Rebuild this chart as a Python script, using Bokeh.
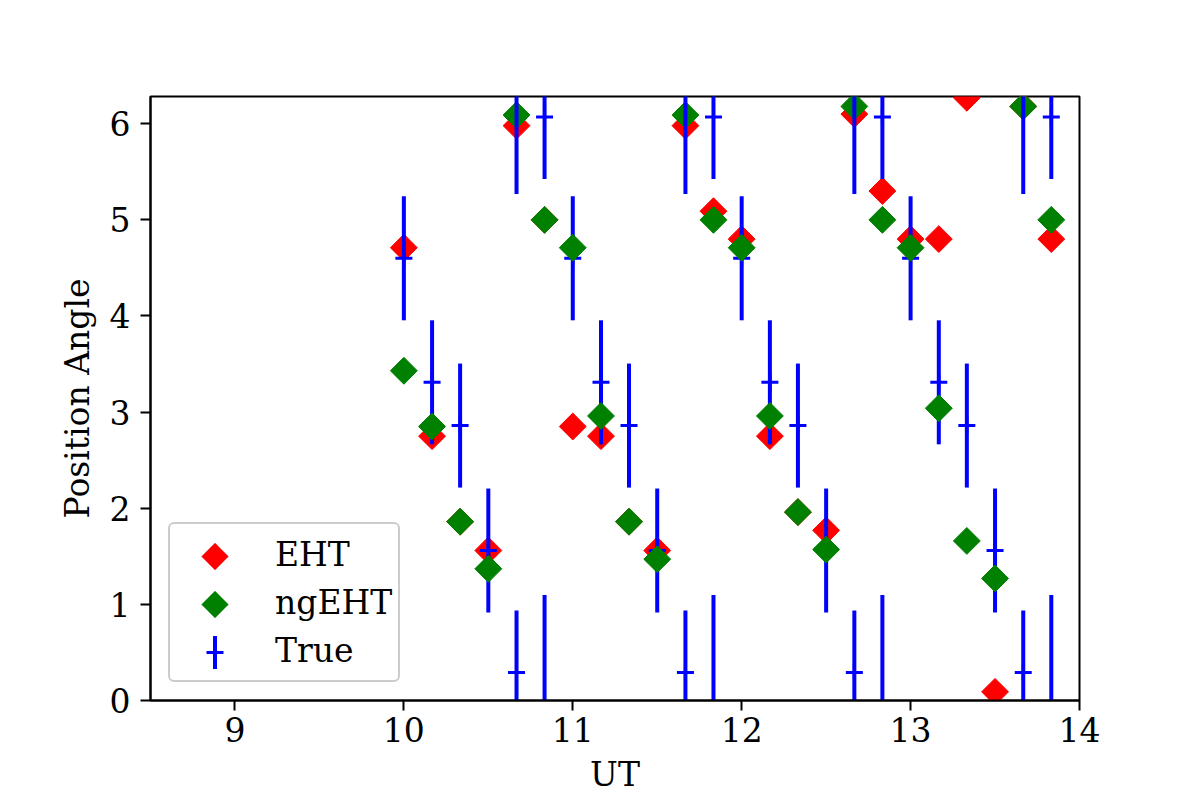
import numpy as np
from bokeh.plotting import figure
from bokeh.models import (Range1d, FixedTicker, Legend, LegendItem, ColumnDataSource,
                          PolyAnnotation)
from bokeh.embed import file_html
from bokeh.resources import INLINE

# ---- data ----
ut = [10.0, 10.167, 10.333, 10.5, 10.667, 10.833,
      11.0, 11.167, 11.333, 11.5, 11.667, 11.833,
      12.0, 12.167, 12.333, 12.5, 12.667, 12.833,
      13.0, 13.167, 13.333, 13.5, 13.667, 13.833]
eht_pa = [4.71, 2.75, 1.86, 1.56, 5.98, 5.00,
          2.85, 2.75, 1.86, 1.56, 5.98, 5.09,
          4.80, 2.75, 1.96, 1.77, 6.10, 5.30,
          4.80, 4.80, 6.27, 0.09, 6.18, 4.80]
ngeht_pa = [3.43, 2.85, 1.86, 1.37, 6.09, 5.00,
            4.71, 2.96, 1.86, 1.47, 6.09, 5.00,
            4.71, 2.96, 1.96, 1.57, 6.18, 5.00,
            4.71, 3.04, 1.66, 1.27, 6.18, 5.00]
true_pa = [4.60, 3.31, 2.86, 1.56, 0.29, 6.07,
           4.60, 3.31, 2.86, 1.56, 0.29, 6.07,
           4.60, 3.31, 2.86, 1.56, 0.29, 6.07,
           4.60, 3.31, 2.86, 1.56, 0.29, 6.07]
true_err_minus = [0.645, 0.645, 0.645, 0.645, 1.305, 0.645] * 4
true_err_plus = [0.645, 0.645, 0.645, 0.645, 0.645, 1.31] * 4
x_ticks = [9, 10, 11, 12, 13, 14]
y_ticks = [0, 1, 2, 3, 4, 5, 6]
labels = ["EHT", "ngEHT", "True"]

FONT = "DejaVu Serif"
FS = "33px"
TWO_PI = 2 * np.pi
RED, GREEN, BLUE = "#ff0000", "#008000", "#0000ff"

t = np.array(true_pa)
lo = t - np.array(true_err_minus)
hi = t + np.array(true_err_plus)

src = ColumnDataSource(dict(ut=ut, eht=eht_pa, ngeht=ngeht_pa, true=true_pa, lo=lo, hi=hi))
# copies shifted by one full turn, so that bars crossing 0 / 2*pi wrap around
wrap_src = ColumnDataSource(dict(
    ut=list(ut) * 2,
    lo=list(lo + TWO_PI) + list(lo - TWO_PI),
    hi=list(hi + TWO_PI) + list(hi - TWO_PI),
    true=list(t + TWO_PI) + list(t - TWO_PI),
))

p = figure(frame_width=929, frame_height=604,
           min_border_left=150, min_border_top=96, min_border_right=121, min_border_bottom=96,
           x_range=Range1d(8.5, 14), y_range=Range1d(0, TWO_PI),
           output_backend="svg", toolbar_location=None,
           x_axis_label="UT", y_axis_label="Position Angle")
p.background_fill_color = "white"
p.border_fill_color = "white"
p.xgrid.visible = False
p.ygrid.visible = False
p.outline_line_color = "black"
p.outline_line_width = 2
p.outline_line_alpha = 1

p.xaxis.ticker = FixedTicker(ticks=x_ticks)
p.yaxis.ticker = FixedTicker(ticks=y_ticks)
for ax in (p.xaxis[0], p.yaxis[0]):
    ax.axis_line_width = 2
    ax.axis_line_color = "black"
    ax.major_tick_line_width = 2
    ax.major_tick_line_color = "black"
    ax.major_tick_out = 10
    ax.major_tick_in = 0
    ax.minor_tick_out = 0
    ax.minor_tick_in = 0
    ax.major_label_text_font = FONT
    ax.major_label_text_font_size = FS
    ax.major_label_text_color = "black"
    ax.axis_label_text_font = FONT
    ax.axis_label_text_font_size = FS
    ax.axis_label_text_font_style = "normal"
    ax.axis_label_text_color = "black"
p.xaxis.major_label_standoff = 6
p.xaxis.axis_label_standoff = 10
p.yaxis.major_label_standoff = 10
p.yaxis.axis_label_standoff = 10

MSIZE = 19  # square side, drawn rotated 45 deg -> diamond
r_eht = p.scatter(x="ut", y="eht", source=src, marker="square", size=MSIZE, angle=np.pi / 4,
                  fill_color=RED, line_color=RED, line_width=1)
p.segment(x0="ut", y0="lo", x1="ut", y1="hi", source=src, line_color=BLUE, line_width=4)
r_true = p.scatter(x="ut", y="true", source=src, marker="cross", size=17,
                   line_color=BLUE, line_width=3)
r_ng = p.scatter(x="ut", y="ngeht", source=src, marker="square", size=MSIZE, angle=np.pi / 4,
                 fill_color=GREEN, line_color=GREEN, line_width=1)
p.segment(x0="ut", y0="lo", x1="ut", y1="hi", source=wrap_src, line_color=BLUE, line_width=4)
p.scatter(x="ut", y="true", source=wrap_src, marker="cross", size=17,
          line_color=BLUE, line_width=3)

# ---- legend (box + labels by Bokeh; symbols drawn on top to match the diamond shape) ----
LX, LY = 18, 18
PAD, ROW_H, GW = 6, 48, 81
legend = Legend(items=[LegendItem(label=labels[0], renderers=[r_eht]),
                       LegendItem(label=labels[1], renderers=[r_ng]),
                       LegendItem(label=labels[2], renderers=[r_true])],
                location=(LX, LY))
legend.label_text_font = FONT
legend.label_text_font_size = FS
legend.label_text_color = "black"
legend.glyph_width = GW
legend.glyph_height = 0
legend.label_height = ROW_H
legend.spacing = 0
legend.padding = PAD
legend.margin = 0
legend.label_standoff = 18
legend.border_line_color = "#cccccc"
legend.border_line_width = 2
legend.border_line_alpha = 1
legend.background_fill_alpha = 0
if "border_radius" in Legend.properties():
    legend.border_radius = 6
p.add_layout(legend)

n_items = len(labels)
top = LY + 2 * PAD + n_items * ROW_H
cx = LX + PAD + GW / 2
centers = [top - PAD - ROW_H * (i + 0.5) for i in range(n_items)]
half = MSIZE * np.sqrt(2) / 2
for cy, col in zip(centers[:2], [RED, GREEN]):
    p.add_layout(PolyAnnotation(xs=[cx, cx + half, cx, cx - half],
                                ys=[cy + half, cy, cy - half, cy],
                                xs_units="screen", ys_units="screen", level="overlay",
                                fill_color=col, fill_alpha=1, line_color=col, line_width=1))
cy = centers[2]
for w, h in [(4, 33), (17, 3)]:
    p.add_layout(PolyAnnotation(xs=[cx - w / 2, cx + w / 2, cx + w / 2, cx - w / 2],
                                ys=[cy - h / 2, cy - h / 2, cy + h / 2, cy + h / 2],
                                xs_units="screen", ys_units="screen", level="overlay",
                                fill_color=BLUE, fill_alpha=1, line_alpha=0))

open("out.html", "w").write(file_html(p, INLINE))
